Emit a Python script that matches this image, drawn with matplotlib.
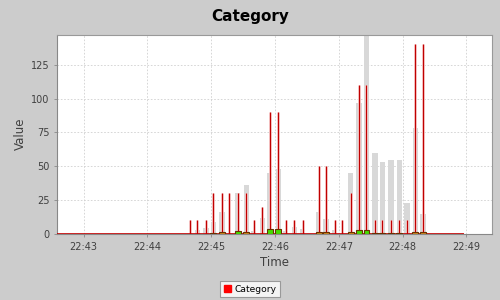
import matplotlib
matplotlib.use('Agg')
import matplotlib.pyplot as plt
import matplotlib.dates as mdates
import matplotlib.patches as mpatches
import pandas as pd

# candle times (hh:mm:ss)
times = ["22:44:40", "22:44:47", "22:44:55", "22:45:02", "22:45:10", "22:45:17",
         "22:45:25", "22:45:33", "22:45:40", "22:45:48", "22:45:55", "22:46:03",
         "22:46:10", "22:46:18", "22:46:26", "22:46:33", "22:46:41", "22:46:48",
         "22:46:56", "22:47:03", "22:47:11", "22:47:19", "22:47:26", "22:47:34",
         "22:47:41", "22:47:49", "22:47:57", "22:48:04", "22:48:12", "22:48:19"]
high = [10, 10, 10, 30, 30, 30, 30, 30, 10, 20, 90, 90, 10, 10, 10, 0,
        50, 50, 10, 10, 30, 110, 110, 10, 10, 10, 10, 10, 140, 140]
low = [0] * 30
opens = [0, 0, 0, 1, 1.5, 0, 0, 1.5, 0, 0, 0, 0, 0, 0, 0, 0,
         1.5, 1.5, 0, 0, 1.5, 0, 0, 0.5, 0.5, 0.5, 0.5, 0, 1.5, 1.5]
closes = [0, 0, 0, 0, 0, 0, 2.5, 0, 0, 0, 3.5, 4, 0, 0, 0, 0,
          0, 0, 0, 0, 0, 3, 3, 0, 0, 0, 0, 0, 0, 0]
volume = [0, 3, 4.5, 9, 16, 0, 30, 36, 2, 12, 45, 48, 2, 5, 3.5, 0,
          16, 11, 3, 0, 45, 97, 150, 60, 53, 55, 55, 23, 78, 15]

# flat (all zero) candles before and after the active period
flat_span = ["22:42:30", "22:48:58"]
x_range = ["22:42:35", "22:49:24"]


def to_num(lst):
    return mdates.date2num(pd.to_datetime(["2000-01-01 " + s for s in lst]))


x = to_num(times)
flat = to_num(flat_span)
xr = to_num(x_range)
sec = 1.0 / 86400

fig = plt.figure(figsize=(5, 3), dpi=100)
fig.patch.set_facecolor('#cccccc')
ax = fig.add_axes([0.114, 0.22, 0.87, 0.6633])
ax.set_facecolor('white')

# volume bars
ax.bar(x, volume, width=5 * sec, color='#d8d8d8', zorder=1)

# zero line of flat candles
ax.hlines(0, flat[0], flat[1], color='#c00000', lw=1.2, zorder=3)

# high-low lines (faint halo + core)
ax.vlines(x, low, high, color='#fbd4d4', lw=2.0, zorder=2)
ax.vlines(x, low, high, color='#c00000', lw=0.9, zorder=3)

# candle bodies
for xi, o, c in zip(x, opens, closes):
    if o == c:
        continue
    col = '#44dd00' if c > o else '#d08a20'
    ax.bar(xi, abs(c - o), bottom=min(o, c), width=5.6 * sec,
           color=col, edgecolor='#6a3000', lw=0.8, zorder=4)

ax.set_xlim(xr[0], xr[1])
ax.set_ylim(0, 147)
ax.set_yticks([0, 25, 50, 75, 100, 125])
ax.xaxis.set_major_locator(mdates.MinuteLocator())
ax.xaxis.set_major_formatter(mdates.DateFormatter('%H:%M'))

ax.grid(True, color='#d0d0d0', linestyle=(0, (2, 2)), lw=0.6, zorder=0)
ax.set_axisbelow(True)
for s in ax.spines.values():
    s.set_color('#999999')
    s.set_linewidth(0.8)
ax.spines['left'].set_color('#888888')
ax.spines['bottom'].set_color('#888888')
ax.tick_params(labelsize=7, colors='#888888', labelcolor='#404040', length=2, width=0.6)

fig.text(0.5, 1 - 17 / 300, 'Category', ha='center', va='center',
         fontsize=11, fontweight='bold')
fig.text(20 / 500, 1 - 134 / 300, 'Value', ha='center', va='center',
         rotation=90, fontsize=8.5, color='#404040')
fig.text(274 / 500, 1 - 262 / 300, 'Time', ha='center', va='center',
         fontsize=8.5, color='#404040')

leg = fig.legend(handles=[mpatches.Patch(color='red', label='Category')],
                 loc='center', bbox_to_anchor=(0.5, 1 - 289 / 300),
                 fontsize=6.6, frameon=True, fancybox=False, handlelength=0.8,
                 handleheight=0.8, handletextpad=0.4, borderpad=0.35)
leg.get_frame().set_edgecolor('#888888')
leg.get_frame().set_linewidth(0.8)
leg.get_frame().set_facecolor('white')

fig.savefig('out.png', dpi=100, facecolor=fig.get_facecolor())
